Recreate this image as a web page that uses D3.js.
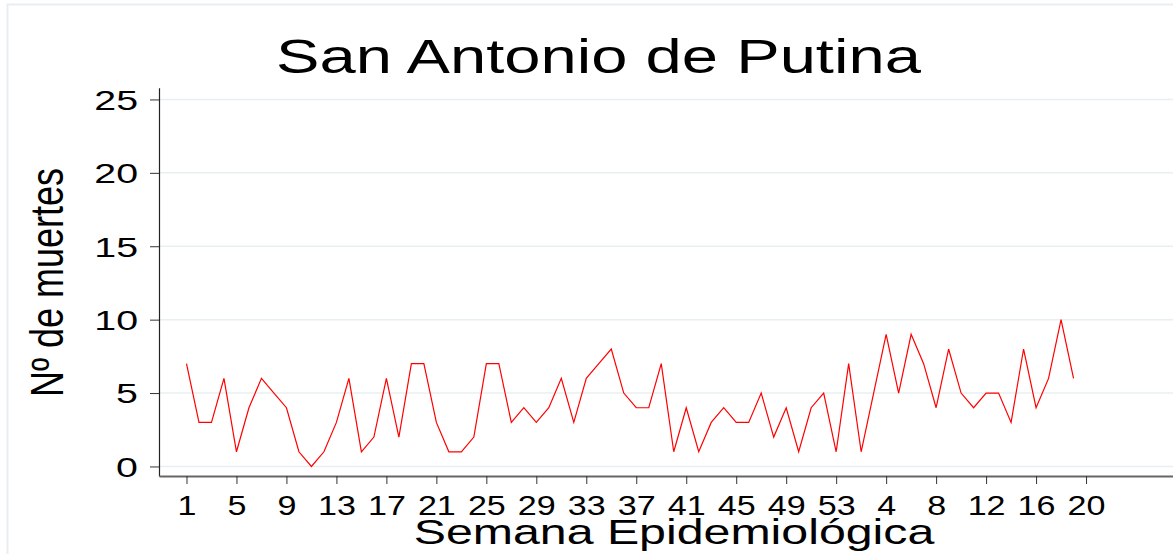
<!DOCTYPE html>
<html>
<head>
<meta charset="utf-8">
<script src="https://cdn.jsdelivr.net/npm/d3@7"></script>
<style>
  body { margin: 0; background: #fff; }
  text { font-family: "Liberation Sans", Arial, sans-serif; fill: #000; }
</style>
</head>
<body>
<div id="chart"></div>
<script>
// semana epidemiologica: 2020 (1-53) y 2021 (1-19)
var semanas = [1,2,3,4,5,6,7,8,9,10,11,12,13,14,15,16,17,18,19,20,21,22,23,24,25,26,27,
               28,29,30,31,32,33,34,35,36,37,38,39,40,41,42,43,44,45,46,47,48,49,50,51,52,53,
               1,2,3,4,5,6,7,8,9,10,11,12,13,14,15,16,17,18,19];
var muertes = [7,3,3,6,1,4,6,5,4,1,0,1,3,6,1,2,6,2,7,7,3,1,1,2,7,7,3,
               4,3,4,6,3,6,7,8,5,4,4,7,1,4,1,3,4,3,3,5,2,4,1,4,5,1,
               7,1,5,9,5,9,7,4,8,5,4,5,5,3,8,4,6,10,6];
var etiquetasX = ["1","5","9","13","17","21","25","29","33","37","41","45","49","53","4","8","12","16","20"];
var ticksY = [0,5,10,15,20,25];

var width = 1173, height = 554;
var svg = d3.select('#chart').append('svg')
        .attr('width', width)
        .attr('height', height);

// outer frame (light)
svg.append('rect')
        .attr('x', 7.5).attr('y', 4.5)
        .attr('width', width).attr('height', height)
        .attr('fill', 'none')
        .attr('stroke', '#e9eff0')
        .attr('stroke-width', 2);

var xscale = d3.scaleLinear().domain([-2.2, 79.2]).range([159, 1176]);
var yscale = d3.scaleLinear().domain([-0.65, 25.8]).range([476, 87.7]);

// gridlines
svg.append('g').selectAll('line')
        .data(ticksY)
        .enter().append('line')
        .attr('x1', 160).attr('x2', width)
        .attr('y1', function (d) { return yscale(d); })
        .attr('y2', function (d) { return yscale(d); })
        .attr('stroke', '#e8eff1')
        .attr('stroke-width', 1.5);

// y axis
var gy = svg.append('g')
        .attr('transform', 'translate(159,0)')
        .call(d3.axisLeft(yscale).tickValues(ticksY).tickSize(9).tickSizeOuter(0));
gy.select('.domain').attr('stroke', '#222').attr('stroke-width', 1.2);
gy.selectAll('.tick line').attr('stroke', '#333');
gy.selectAll('.tick text')
        .attr('x', null).attr('dy', '0.36em')
        .attr('font-size', 27.5)
        .attr('transform', 'translate(-21,0) scale(1.43,1)');

// x axis
var tickPos = etiquetasX.map(function (d, k) { return k * 4; });
var gx = svg.append('g')
        .attr('transform', 'translate(0,476)')
        .call(d3.axisBottom(xscale).tickValues(tickPos)
                .tickFormat(function (d, k) { return etiquetasX[k]; })
                .tickSize(8).tickSizeOuter(0));
gx.select('.domain').attr('stroke', '#666').attr('stroke-width', 2);
gx.selectAll('.tick line').attr('stroke', '#333');
gx.selectAll('.tick text')
        .attr('y', null).attr('dy', null)
        .attr('font-size', 27.5)
        .attr('transform', 'translate(0,39) scale(1.24,1)');

// line
var line = d3.line()
        .x(function (d, i) { return xscale(i); })
        .y(function (d) { return yscale(d); });
svg.append('path')
        .datum(muertes)
        .attr('fill', 'none')
        .attr('stroke', '#ff0000')
        .attr('stroke-width', 1.2)
        .attr('d', line);

// titles
svg.append('text')
        .attr('text-anchor', 'middle')
        .attr('font-size', 49)
        .attr('transform', 'translate(598.5,73) scale(1.33,1)')
        .text('San Antonio de Putina');

svg.append('text')
        .attr('text-anchor', 'middle')
        .attr('font-size', 35)
        .attr('transform', 'translate(674,544) scale(1.38,1)')
        .text('Semana Epidemiológica');

svg.append('text')
        .attr('text-anchor', 'middle')
        .attr('font-size', 36)
        .attr('transform', 'translate(63,282.5) scale(1.26,1) rotate(-90)')
        .text('Nº de muertes');
</script>
</body>
</html>
